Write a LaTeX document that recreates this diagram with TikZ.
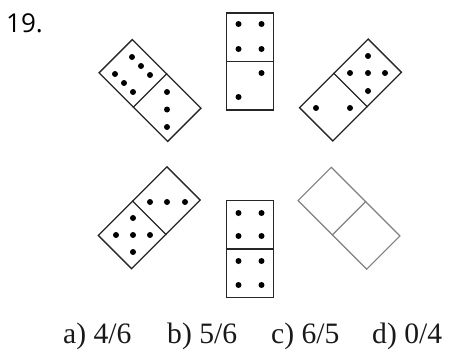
\documentclass[tikz,border=0pt]{standalone}
\usepackage{fontspec}
\setmainfont{Liberation Serif}
\newfontfamily\numfont{Open Sans}
\begin{document}
\begin{tikzpicture}[x=1pt,y=-1pt,
  domino/.style={draw=black!85,line width=1.3pt,rectangle,minimum width=47pt,minimum height=97pt,inner sep=0pt,fill=white},
  blankdomino/.style={domino,draw=black!50,line width=1.1pt},
  pip/.style={circle,fill=black,inner sep=0pt,minimum size=6pt},
  answer/.style={anchor=base west,inner sep=0pt,font=\fontsize{29.6}{32}\selectfont,text=black!90}]
\useasboundingbox (0,0) rectangle (453,354);
\node[anchor=base west,inner sep=0pt,font=\numfont\fontsize{26}{28}\selectfont] (num) at (6,32) {19.};
% dominoes
\node[domino,rotate=45] (tl) at (150,90.5) {};
\draw[black!85,line width=1.3pt] (tl.west) -- (tl.east);
\node[domino] (tc) at (250,61.5) {};
\draw[black!85,line width=1.3pt] (tc.west) -- (tc.east);
\node[domino,rotate=-45] (tr) at (350.5,90) {};
\draw[black!85,line width=1.3pt] (tr.west) -- (tr.east);
\node[domino,rotate=-45] (bl) at (149.25,217.75) {};
\draw[black!85,line width=1.3pt] (bl.west) -- (bl.east);
\node[domino] (bc) at (250,249) {};
\draw[black!85,line width=1.3pt] (bc.west) -- (bc.east);
\node[blankdomino,rotate=45] (br) at (349,218.25) {};
\draw[black!50,line width=1.1pt] (br.west) -- (br.east);
% pips top-left
\foreach \p in {(132,57),(141,66),(150,75),(115,74),(124,83),(133,92),(167,92),(167,109.5),(167,127)}
  \node[pip] at \p {};
% pips top-centre
\foreach \p in {(238.5,24),(261.5,24),(238.5,49),(261.5,49),(261.5,73),(238.5,97)}
  \node[pip] at \p {};
% pips top-right
\foreach \p in {(368,56),(350,73),(368,73),(385,73),(368,91),(316,108),(350,108)}
  \node[pip] at \p {};
% pips bottom-left
\foreach \p in {(150,202),(167,202),(185,202),(133,218),(116,235),(133,235),(150,235),(133,252)}
  \node[pip] at \p {};
% pips bottom-centre
\foreach \p in {(238.5,213),(261.5,213),(238.5,236),(261.5,236),(238.5,261),(261.5,261),(238.5,285),(261.5,285)}
  \node[pip] at \p {};
% answers
\node[answer] (a) at (63,343) {a) 4/6};
\node[answer] (b) at (167,343) {b) 5/6};
\node[answer] (c) at (271,343) {c) 6/5};
\node[answer] (d) at (372,343) {d) 0/4};
\end{tikzpicture}
\end{document}
